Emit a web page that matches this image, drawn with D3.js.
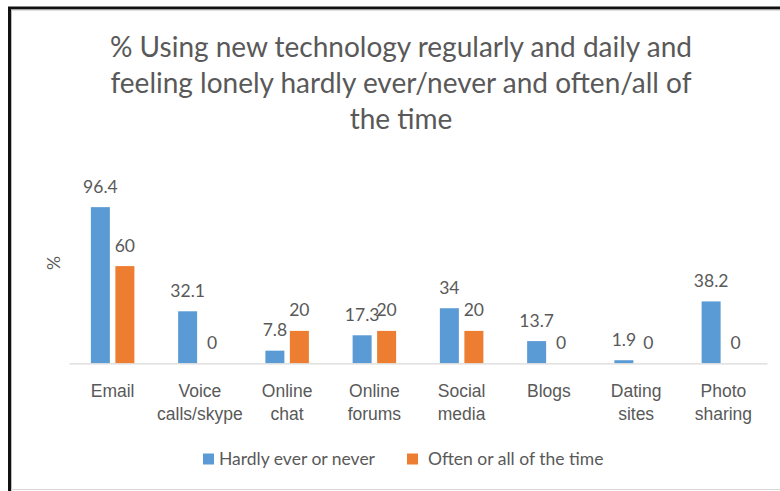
<!DOCTYPE html>
<html>
<head>
<meta charset="utf-8">
<script src="https://cdn.jsdelivr.net/npm/d3@7"></script>
<style>
  html, body { margin: 0; padding: 0; background: #fff; }
  svg { display: block; font-family: Lato, "Open Sans", sans-serif; }
</style>
</head>
<body>
<svg id="chart" width="780" height="491"></svg>
<script>
// Chart data
const categories = [
  ["Email"],
  ["Voice", "calls/skype"],
  ["Online", "chat"],
  ["Online", "forums"],
  ["Social", "media"],
  ["Blogs"],
  ["Dating", "sites"],
  ["Photo", "sharing"]
];
const seriesNames = ["Hardly ever or never", "Often or all of the time"];
const hardlyEver = [96.4, 32.1, 7.8, 17.3, 34, 13.7, 1.9, 38.2];
const oftenAll = [60, 0, 20, 20, 20, 0, 0, 0];
const titleLines = [
  "% Using new technology regularly and daily and",
  "feeling lonely hardly ever/never and often/all of",
  "the time"
];
const colors = ["#5B9BD5", "#ED7D31"];

const svg = d3.select("#chart");
const textColor = "#595959";

// Outer frame
svg.append("rect").attr("x", 0).attr("y", 0).attr("width", 780).attr("height", 491).attr("fill", "#fff");
svg.append("line").attr("x1", 8).attr("x2", 780).attr("y1", 8).attr("y2", 8)
  .attr("stroke", "#111").attr("stroke-width", 3);
svg.append("line").attr("x1", 9.5).attr("x2", 9.5).attr("y1", 7).attr("y2", 491)
  .attr("stroke", "#111").attr("stroke-width", 3);
svg.append("line").attr("x1", 11).attr("x2", 780).attr("y1", 10).attr("y2", 10)
  .attr("stroke", "#bdbdbd").attr("stroke-width", 1);
svg.append("line").attr("x1", 11.5).attr("x2", 11.5).attr("y1", 10).attr("y2", 491)
  .attr("stroke", "#bdbdbd").attr("stroke-width", 1);
svg.append("line").attr("x1", 11).attr("x2", 780).attr("y1", 489.5).attr("y2", 489.5)
  .attr("stroke", "#d9d9d9").attr("stroke-width", 1);

// Title
svg.append("g").selectAll("text").data(titleLines).join("text")
  .attr("x", 401).attr("y", (d, i) => 57 + i * 36)
  .attr("text-anchor", "middle")
  .attr("font-size", 28)
  .attr("fill", textColor)
  .text(d => d);

// Scales
const x0 = d3.scaleBand().domain(d3.range(categories.length)).range([69, 767]).paddingInner(0).paddingOuter(0);
const y = d3.scaleLinear().domain([0, 100]).range([363.3, 201.3]);
const barW = 19, gap = 5.5;
const offsets = [-(barW + gap) / 2, (barW + gap) / 2];

const series = [hardlyEver, oftenAll];
series.forEach((vals, s) => {
  const g = svg.append("g");
  g.selectAll("rect").data(vals).join("rect")
    .attr("x", (d, i) => x0(i) + x0.bandwidth() / 2 + offsets[s] - barW / 2)
    .attr("width", barW)
    .attr("y", d => y(d))
    .attr("height", d => y(0) - y(d))
    .attr("fill", colors[s]);
  g.selectAll("text").data(vals).join("text")
    .attr("x", (d, i) => x0(i) + x0.bandwidth() / 2 + offsets[s])
    .attr("y", d => y(d) - 14.5)
    .attr("text-anchor", "middle")
    .attr("font-size", 17.5)
    .attr("fill", textColor)
    .text(d => d);
});

// Category axis
const xAxis = svg.append("g").attr("transform", `translate(0,${y(0)})`)
  .call(d3.axisBottom(x0).tickSize(0).tickFormat(""));
xAxis.select(".domain").attr("stroke", "#d9d9d9").attr("stroke-width", 1.3);
xAxis.selectAll(".tick").each(function(i) {
  const t = d3.select(this).append("text")
    .attr("fill", textColor).attr("font-size", 17.5)
    .attr("text-anchor", "middle").attr("y", 33.4);
  categories[i].forEach((line, k) => {
    t.append("tspan").attr("x", 0).attr("dy", k === 0 ? 0 : 23.3).text(line);
  });
});

// Y axis title
svg.append("text")
  .attr("transform", "translate(60,263) rotate(-90)")
  .attr("text-anchor", "middle")
  .attr("font-size", 17.5)
  .attr("fill", textColor)
  .text("%");

// Legend
const legendItems = [{ x: 203, tx: 219 }, { x: 407, tx: 428 }];
const legend = svg.append("g");
legendItems.forEach((p, i) => {
  legend.append("rect").attr("x", p.x).attr("y", 453.5).attr("width", 11).attr("height", 11).attr("fill", colors[i]);
  legend.append("text").attr("x", p.tx).attr("y", 465).attr("font-size", 17.5)
    .attr("fill", textColor).text(seriesNames[i]);
});
</script>
</body>
</html>
